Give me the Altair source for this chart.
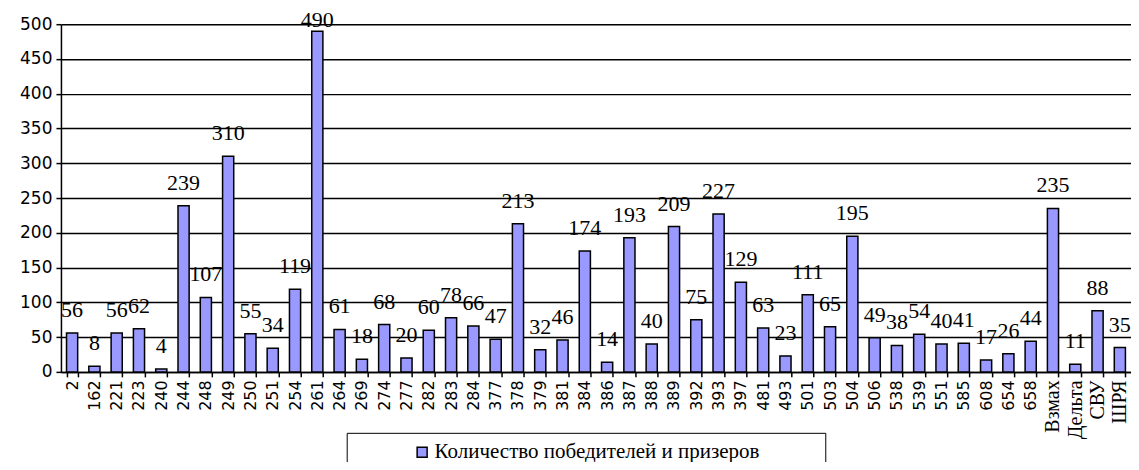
import altair as alt
import pandas as pd

categories = ["2", "162", "221", "223", "240", "244", "248", "249", "250", "251", "254", "261",
              "264", "269", "274", "277", "282", "283", "284", "377", "378", "379", "381", "384",
              "386", "387", "388", "389", "392", "393", "397", "481", "493", "501", "503", "504",
              "506", "538", "539", "551", "585", "608", "654", "658", "Взмах", "Дельта", "СВУ", "ШРЯ"]
values = [56, 8, 56, 62, 4, 239, 107, 310, 55, 34, 119, 490,
          61, 18, 68, 20, 60, 78, 66, 47, 213, 32, 46, 174,
          14, 193, 40, 209, 75, 227, 129, 63, 23, 111, 65, 195,
          49, 38, 54, 40, 41, 17, 26, 44, 235, 11, 88, 35]
series_name = "Количество победителей и призеров"
y_ticks = [0, 50, 100, 150, 200, 250, 300, 350, 400, 450, 500]

SERIF = "Liberation Serif"
SANS = "DejaVu Sans"

df = pd.DataFrame({"cat": categories, "val": values, "series": [series_name] * len(categories)})

x_axis = alt.Axis(labelAngle=270,
                  labelFont=alt.condition("isNaN(toNumber(datum.value))",
                                          alt.value(SERIF), alt.value(SANS)),
                  labelFontSize=alt.condition("isNaN(toNumber(datum.value))",
                                              alt.value(20), alt.value(16)),
                  labelColor="black", domainColor="black", domainWidth=1.5,
                  tickColor="black", tickWidth=1.5, tickSize=5, tickBand="extent",
                  labelPadding=3, grid=False, labelOverlap=False)
y_axis = alt.Axis(values=y_ticks, tickCount=11, labelFont=SANS, labelFontSize=17,
                  labelColor="black", domainColor="black", domainWidth=1.5,
                  tickColor="black", tickWidth=1.5, tickSize=5,
                  gridColor="black", gridWidth=1.5, gridOpacity=1,
                  labelPadding=4, labelOverlap=False)
y_scale = alt.Scale(domain=[0, 500], nice=False)

bars = alt.Chart(df).mark_bar(stroke="black", strokeWidth=1.5).encode(
    x=alt.X("cat:N", sort=categories, title=None,
            scale=alt.Scale(paddingInner=0.5, paddingOuter=0.25), axis=x_axis),
    y=alt.Y("val:Q", title=None, scale=y_scale, axis=y_axis),
    color=alt.Color("series:N",
                    scale=alt.Scale(range=["#9999FF"]),
                    legend=alt.Legend(orient="none", legendX=286, legendY=409,
                                      title="\u00a0", titleOrient="right", titlePadding=57,
                                      titleFontSize=19,
                                      symbolType="square", symbolSize=100,
                                      symbolStrokeColor="black", symbolStrokeWidth=1.5,
                                      labelFont=SERIF, labelFontSize=21,
                                      labelColor="black", labelLimit=700,
                                      strokeColor="black", fillColor="white",
                                      padding=9, symbolOffset=56, labelOffset=2))
)

labels = alt.Chart(df).transform_calculate(
    ly="min(datum.val + 23, 496)"
).mark_text(baseline="alphabetic", font=SERIF, fontSize=22, color="black").encode(
    x=alt.X("cat:N", sort=categories, title=None, axis=x_axis),
    y=alt.Y("ly:Q", title=None, scale=y_scale, axis=y_axis),
    text="val:Q")

chart = alt.layer(bars, labels).properties(
    width=1071, height=348,
    autosize=alt.AutoSizeParams(type="none"),
    padding={"left": 53, "top": 16, "right": 0, "bottom": 90},
).configure_view(stroke=None).configure(background="white")

chart.save("out.html", embed_options={"renderer": "svg", "actions": False})
